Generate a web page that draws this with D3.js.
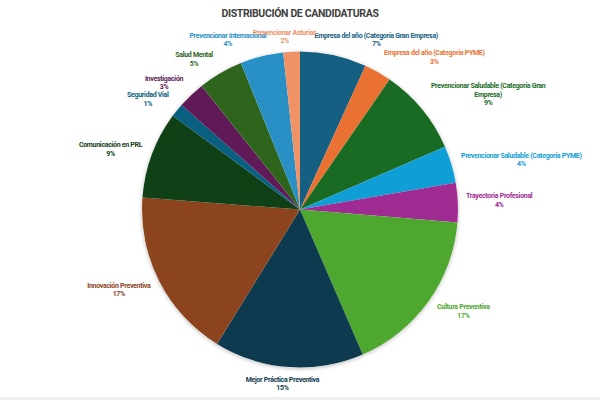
<!DOCTYPE html>
<html>
<head>
<meta charset="utf-8">
<script src="https://cdn.jsdelivr.net/npm/d3@7"></script>
<style>
  body { margin: 0; background: #fff; }
  text { font-family: "Roboto", "Liberation Sans", sans-serif; font-weight: bold; }
</style>
</head>
<body>
<div id="chart"></div>
<script>
const categories = [
    "Empresa del año (Categoría Gran Empresa)",
    "Empresa del año (Categoría PYME)",
    "Prevencionar Saludable (Categoría Gran Empresa)",
    "Prevencionar Saludable (Categoría PYME)",
    "Trayectoria Profesional",
    "Cultura Preventiva",
    "Mejor Práctica Preventiva",
    "Innovación Preventiva",
    "Comunicación en PRL",
    "Seguridad Vial",
    "Investigación",
    "Salud Mental",
    "Prevencionar Internacional",
    "Prevencionar Asturias"
];
// share of candidaturas (%)
const values = [6.8, 2.8, 8.9, 3.8, 4.0, 17.2, 15.3, 17.4, 8.9, 1.4, 2.8, 4.6, 4.4, 1.7];
const colors = [
    "#156082", "#e97132", "#196b24", "#0f9ed5", "#a02b93", "#4ea72e",
    "#0d3a4e", "#8c441e", "#0f4016", "#095f80", "#601a58", "#2f641c",
    "#2990c6", "#ef9266"
];

// label layout: angle nudge (deg), gap to the pie edge (px), wrap width (px, 0 = no wrap)
const labelNudge = [12, 12, 8, 4, 0, -3.6, 1.6, 3, -2.7, -3, -3.5, -5, -9, -2];
const labelGap = [3.5, 8, 8, 8, 8, 8, 8, 8, 8, 8, 8, 8, 6.5, 6];
const labelWrap = [0, 0, 116, 0, 0, 0, 0, 0, 0, 0, 0, 0, 0, 0];

const width = 600, height = 400;
const cx = 300, cy = 209.5, radius = 158;
const fontSize = 7, lineH = 8.6, spacing = -0.3;

const svg = d3.select("#chart").append("svg")
    .attr("width", width)
    .attr("height", height);

svg.append("rect").attr("width", width).attr("height", height).attr("fill", "#fff");
svg.append("rect").attr("y", 397).attr("width", width).attr("height", 3).attr("fill", "#efefef");

const defs = svg.append("defs");
defs.append("filter").attr("id", "shadow")
    .attr("x", "-10%").attr("y", "-10%").attr("width", "120%").attr("height", "120%")
    .append("feDropShadow")
    .attr("dx", 0).attr("dy", 1).attr("stdDeviation", 2)
    .attr("flood-color", "#000").attr("flood-opacity", 0.28);

svg.append("text")
    .attr("x", cx).attr("y", 13)
    .attr("text-anchor", "middle")
    .attr("dominant-baseline", "central")
    .attr("font-size", "10.5px")
    .attr("letter-spacing", "-0.35px")
    .attr("fill", "#404040")
    .text("DISTRIBUCIÓN DE CANDIDATURAS");

const pie = d3.pie().sort(null).value(d => d);
const arcs = pie(values);
const arc = d3.arc().innerRadius(0).outerRadius(radius);

const pieG = svg.append("g").attr("transform", `translate(${cx},${cy})`);
pieG.append("circle").attr("r", radius).attr("fill", "#fff").attr("filter", "url(#shadow)");
pieG.selectAll("path")
    .data(arcs)
    .enter().append("path")
    .attr("d", arc)
    .attr("fill", (d, i) => colors[i]);

const total = d3.sum(values);
const pct = d3.format(".0%");

// measure helper
const measure = svg.append("text")
    .attr("font-size", fontSize + "px")
    .attr("letter-spacing", spacing + "px")
    .attr("visibility", "hidden");
function textWidth(s) {
    measure.text(s);
    return measure.node().getComputedTextLength();
}

function wrapLines(s, maxW) {
    if (!maxW) return [s];
    const words = s.split(" ");
    const lines = [];
    let cur = "";
    words.forEach(w => {
        const test = cur ? cur + " " + w : w;
        if (cur && textWidth(test) > maxW) {
            lines.push(cur);
            cur = w;
        } else {
            cur = test;
        }
    });
    lines.push(cur);
    return lines;
}

function nearestDist(x, y, w, h) {
    const nx = Math.max(x - w / 2, Math.min(cx, x + w / 2));
    const ny = Math.max(y - h / 2, Math.min(cy, y + h / 2));
    return Math.hypot(nx - cx, ny - cy);
}

arcs.forEach((d, i) => {
    const lines = wrapLines(categories[i], labelWrap[i]);
    lines.push(pct(d.value / total));
    const w = d3.max(lines, l => textWidth(l));
    const h = lines.length * lineH;
    const a = (d.startAngle + d.endAngle) / 2 + labelNudge[i] * Math.PI / 180;

    // push the label box out along its ray until it clears the pie edge
    let lo = 0, hi = 300;
    for (let k = 0; k < 40; k++) {
        const mid = (lo + hi) / 2;
        const x = cx + mid * Math.sin(a), y = cy - mid * Math.cos(a);
        if (nearestDist(x, y, w, h) < radius + labelGap[i]) lo = mid; else hi = mid;
    }
    const lx = cx + hi * Math.sin(a), ly = cy - hi * Math.cos(a);

    const t = svg.append("text")
        .attr("font-size", fontSize + "px")
        .attr("letter-spacing", spacing + "px")
        .attr("fill", colors[i])
        .attr("text-anchor", "middle")
        .attr("dominant-baseline", "central");
    lines.forEach((l, k) => {
        t.append("tspan")
            .attr("x", lx)
            .attr("y", ly - h / 2 + lineH * (k + 0.5))
            .text(l);
    });
});
measure.remove();
</script>
</body>
</html>
